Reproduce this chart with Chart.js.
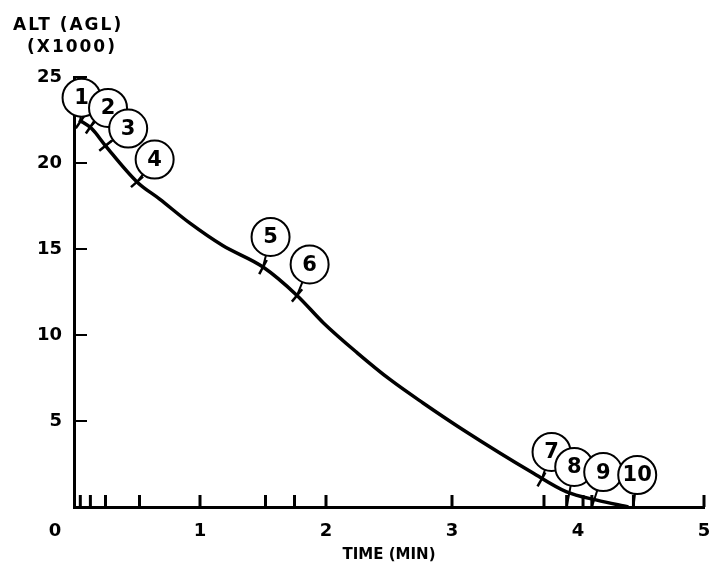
<!DOCTYPE html>
<html>
<head>
<meta charset="utf-8">
<script src="https://cdn.jsdelivr.net/npm/chart.js@4.4.1/dist/chart.umd.min.js"></script>
<style>
  html, body { margin: 0; padding: 0; background: #fff; overflow: hidden; }
  #wrap { width: 710px; height: 568px; position: relative; }
  canvas { display: block; }
</style>
</head>
<body>
<div id="wrap"><canvas id="chart"></canvas></div>
<script>
// Descent profile: altitude (AGL, x1000 ft) against time (min),
// with the numbered event call-outs sitting on the curve / time axis.

// ── Descent curve ───────────────────────────────────────────────────────────
const CURVE_T   = [0.04, 0.14, 0.25, 0.50, 0.68, 0.92, 1.18, 1.50, 1.77, 1.98, 2.25, 2.51, 2.77, 3.09, 3.64, 3.91, 4.15, 4.40];
const CURVE_ALT = [22.5, 22.0, 21.0, 18.9, 17.9, 16.5, 15.2, 13.95, 12.3, 10.7, 8.95, 7.4, 6.05, 4.48, 1.99, 0.88, 0.40, 0.0];

// ── Numbered call-outs (circle centre) ──────────────────────────────────────
const MARKER_NUM = [1, 2, 3, 4, 5, 6, 7, 8, 9, 10];
const MARKER_T   = [0.06, 0.27, 0.43, 0.64, 1.56, 1.87, 3.79, 3.97, 4.20, 4.47];
const MARKER_ALT = [23.8, 23.2, 22.0, 20.2, 15.7, 14.1, 3.2, 2.33, 2.03, 1.86];

// ── Event points each call-out points at ────────────────────────────────────
const EVENT_T   = [0.05, 0.13, 0.25, 0.50, 1.50, 1.77, 3.71, 3.91, 4.11, 4.44];
const EVENT_ALT = [22.4, 22.1, 21.0, 18.9, 13.95, 12.3, 1.6, 0, 0, 0];
const ON_CURVE  = [true, true, true, true, true, true, true, false, false, false];

// ── Axis marks ──────────────────────────────────────────────────────────────
const TIME_MARKS = [0.05, 0.13, 0.25, 0.52, 1.0, 1.52, 1.75, 2.0, 3.0, 3.73, 3.91, 4.04, 4.11, 4.44, 5.0];
const ALT_TICKS  = [5, 10, 15, 20, 25];

const FONT = '"DejaVu Sans", sans-serif';

// stems: event -> circle, separated by gaps
const stemData = [];
EVENT_T.forEach((t, i) => {
  stemData.push({ x: t, y: EVENT_ALT[i] });
  stemData.push({ x: MARKER_T[i], y: MARKER_ALT[i] });
  stemData.push({ x: MARKER_T[i], y: null });
});

// ── Extra drawing: inward ticks, cross ticks, circle numbers, headings ─────
const annotate = {
  id: 'annotate',
  beforeDatasetsDraw(chart) {
    const { ctx, scales: { x, y } } = chart;
    const px = v => x.getPixelForValue(v);
    const py = v => y.getPixelForValue(v);
    ctx.save();
    ctx.strokeStyle = '#000';

    // time-axis marks, pointing up
    ctx.lineWidth = 3;
    TIME_MARKS.forEach(t => {
      ctx.beginPath();
      ctx.moveTo(px(t), py(0));
      ctx.lineTo(px(t), py(0) - 12);
      ctx.stroke();
    });

    // altitude ticks, pointing right
    ctx.lineWidth = 2;
    ALT_TICKS.forEach(v => {
      ctx.beginPath();
      ctx.moveTo(px(0), py(v));
      ctx.lineTo(px(0) + 13, py(v));
      ctx.stroke();
    });

    // short cross ticks where call-outs meet the curve
    ctx.lineWidth = 2.5;
    EVENT_T.forEach((t, i) => {
      if (!ON_CURVE[i]) return;
      let k = 0;
      while (k < CURVE_T.length - 2 && CURVE_T[k + 1] < t) k++;
      const dx = px(CURVE_T[k + 1]) - px(CURVE_T[k]);
      const dy = py(CURVE_ALT[k + 1]) - py(CURVE_ALT[k]);
      const len = Math.hypot(dx, dy);
      const nx = -dy / len, ny = dx / len;
      const cx = px(t), cy = py(EVENT_ALT[i]);
      ctx.beginPath();
      ctx.moveTo(cx - nx * 8, cy - ny * 8);
      ctx.lineTo(cx + nx * 8, cy + ny * 8);
      ctx.stroke();
    });
    ctx.restore();
  },
  afterDatasetsDraw(chart) {
    const { ctx } = chart;
    ctx.save();
    ctx.fillStyle = '#000';

    // numbers inside the circles
    const meta = chart.getDatasetMeta(0);
    ctx.font = `bold 21px ${FONT}`;
    ctx.textAlign = 'center';
    ctx.textBaseline = 'middle';
    meta.data.forEach((pt, i) => {
      ctx.fillText(String(MARKER_NUM[i]), pt.x, pt.y + 1);
    });

    // y heading, two lines
    ctx.font = `bold 17px ${FONT}`;
    ctx.textAlign = 'left';
    ctx.textBaseline = 'alphabetic';
    ctx.letterSpacing = '2px';
    ctx.fillText('ALT (AGL)', 13, 30);
    ctx.fillText('(X1000)', 27, 52);

    // origin label sits at the corner
    ctx.letterSpacing = '0px';
    ctx.font = `bold 18px ${FONT}`;
    ctx.textAlign = 'center';
    ctx.textBaseline = 'middle';
    ctx.fillText('0', 55, 531);
    ctx.restore();
  }
};

new Chart(document.getElementById('chart'), {
  type: 'line',
  data: {
    datasets: [
      {
        // call-out circles (index 0 = drawn on top)
        data: MARKER_T.map((t, i) => ({ x: t, y: MARKER_ALT[i] })),
        showLine: false,
        pointRadius: 19,
        pointBackgroundColor: '#fff',
        pointBorderColor: '#000',
        pointBorderWidth: 2,
        clip: false
      },
      {
        data: stemData,
        borderColor: '#000',
        borderWidth: 2,
        pointRadius: 0,
        spanGaps: false,
        clip: false
      },
      {
        data: CURVE_T.map((t, i) => ({ x: t, y: CURVE_ALT[i] })),
        borderColor: '#000',
        borderWidth: 3.5,
        pointRadius: 0,
        cubicInterpolationMode: 'monotone',
        clip: false
      }
    ]
  },
  options: {
    responsive: true,
    maintainAspectRatio: false,
    animation: false,
    events: [],
    layout: { autoPadding: false, padding: { top: 77, right: 6, left: 0, bottom: 0 } },
    plugins: {
      legend: { display: false },
      tooltip: { enabled: false }
    },
    scales: {
      x: {
        type: 'linear',
        min: 0,
        max: 5,
        grid: { display: false, drawTicks: false },
        border: { display: true, color: '#000', width: 3 },
        ticks: {
          stepSize: 1,
          color: '#000',
          padding: 14,
          maxRotation: 0,
          font: { family: FONT, size: 18, weight: 'bold' },
          callback: v => (v === 0 ? '' : v)
        },
        title: {
          display: true,
          text: 'TIME (MIN)',
          color: '#000',
          font: { family: FONT, size: 15, weight: 'bold' }
        },
        afterFit: s => {
          s.height = 61;
          s.paddingLeft = 0;
          s.paddingRight = 0;
        }
      },
      y: {
        min: 0,
        max: 25,
        grid: { display: false, drawTicks: false },
        border: { display: true, color: '#000', width: 3 },
        ticks: {
          stepSize: 5,
          color: '#000',
          padding: 12,
          font: { family: FONT, size: 18, weight: 'bold' },
          callback: v => (v === 0 ? '' : v)
        },
        afterFit: s => {
          s.width = 74;
          s.paddingTop = 0;
          s.paddingBottom = 0;
        }
      }
    }
  },
  plugins: [annotate]
});
</script>
</body>
</html>
